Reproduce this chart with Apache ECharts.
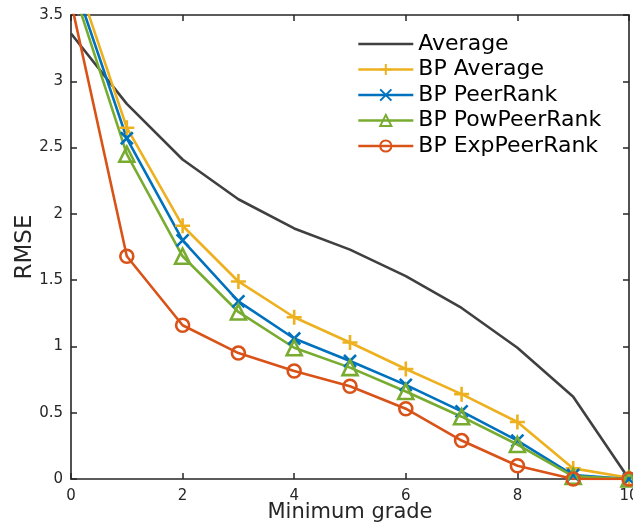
<!DOCTYPE html>
<html>
<head>
<meta charset="utf-8">
<script src="https://cdn.jsdelivr.net/npm/echarts@6/dist/echarts.min.js"></script>
<style>html,body{margin:0;padding:0;background:#fff}#c{width:633px;height:526px}</style>
</head>
<body>
<div id="c"></div>
<script>
const xs = [0, 1, 2, 3, 4, 5, 6, 7, 8, 9, 10];
const average = [3.36, 2.83, 2.41, 2.11, 1.89, 1.73, 1.53, 1.29, 0.99, 0.62, 0.0];
const bpAverage = [3.90, 2.65, 1.91, 1.49, 1.22, 1.03, 0.83, 0.64, 0.43, 0.08, 0.01];
const bpPeerRank = [3.81, 2.57, 1.80, 1.34, 1.06, 0.89, 0.71, 0.51, 0.29, 0.03, 0.0];
const bpPowPeerRank = [3.75, 2.45, 1.68, 1.26, 0.99, 0.84, 0.66, 0.47, 0.26, 0.02, 0.0];
const bpExpPeerRank = [3.60, 1.68, 1.16, 0.95, 0.815, 0.70, 0.53, 0.29, 0.10, 0.0, 0.0];
const seriesNames = ['Average', 'BP Average', 'BP PeerRank', 'BP PowPeerRank', 'BP ExpPeerRank'];
const xTicks = [0, 2, 4, 6, 8, 10];
const yTicks = [0, 0.5, 1, 1.5, 2, 2.5, 3, 3.5];

const FONT = 'DejaVu Sans';
const AX = '#262626';
const pair = arr => xs.map((x, i) => [x, arr[i]]);
const PLUS = 'path://M5,0L5,10M0,5L10,5';
const CROSS = 'path://M0,0L10,10M0,10L10,0';

function mk(name, data, color, symbol, size) {
  return {
    name: name, type: 'line', data: pair(data), color: color,
    symbol: symbol || 'none', symbolSize: size || 0,
    showSymbol: !!symbol, clip: true,
    lineStyle: { color: color, width: 2.6 },
    itemStyle: { color: 'rgba(255,255,255,0)', borderColor: symbol ? color : 'rgba(255,255,255,0)', borderWidth: 2.6 },
    emphasis: { disabled: true }
  };
}

const chart = echarts.init(document.getElementById('c'), null, { renderer: 'canvas' });
const axCommon = {
  type: 'value', min: 0, splitLine: { show: false },
  axisLine: { show: true, onZero: false, lineStyle: { color: AX, width: 1.6 } },
  axisTick: { show: true, inside: true, length: 6, lineStyle: { color: AX, width: 1.5 } }
};
chart.setOption({
  animation: false,
  backgroundColor: '#fff',
  grid: { left: 71, right: 4, top: 15, bottom: 47, containLabel: false, outerBoundsMode: 'none' },
  legend: {
    orient: 'vertical', left: 357, top: 33, padding: 0,
    itemWidth: 55, itemHeight: 14, itemGap: 3.5,
    data: seriesNames,
    lineStyle: { width: 2.6 },
    textStyle: { fontFamily: FONT, fontSize: 22, color: '#000', lineHeight: 22 }
  },
  xAxis: [
    Object.assign({}, axCommon, {
      max: 10, interval: 2, position: 'bottom',
      name: 'Minimum grade', nameLocation: 'middle', nameGap: 23, nameMoveOverlap: false,
      nameTextStyle: { fontFamily: FONT, fontSize: 21, color: AX },
      axisLabel: { fontFamily: FONT, fontSize: 15, color: AX, margin: 10 }
    }),
    Object.assign({}, axCommon, {
      max: 10, interval: 2, position: 'top', axisLabel: { show: false }
    })
  ],
  yAxis: [
    Object.assign({}, axCommon, {
      max: 3.5, interval: 0.5, position: 'left',
      name: 'RMSE', nameLocation: 'middle', nameGap: 34.5, nameMoveOverlap: false,
      nameTextStyle: { fontFamily: FONT, fontSize: 23, color: AX },
      axisLabel: { fontFamily: FONT, fontSize: 15, color: AX, margin: 8 }
    }),
    Object.assign({}, axCommon, {
      max: 3.5, interval: 0.5, position: 'right', axisLabel: { show: false }
    })
  ],
  series: [
    mk(seriesNames[0], average, '#404040'),
    mk(seriesNames[1], bpAverage, '#EDB120', PLUS, 15),
    mk(seriesNames[2], bpPeerRank, '#0072BD', CROSS, 12),
    mk(seriesNames[3], bpPowPeerRank, '#77AC30', 'triangle', 15),
    mk(seriesNames[4], bpExpPeerRank, '#D95319', 'circle', 13)
  ]
});
</script>
</body>
</html>
